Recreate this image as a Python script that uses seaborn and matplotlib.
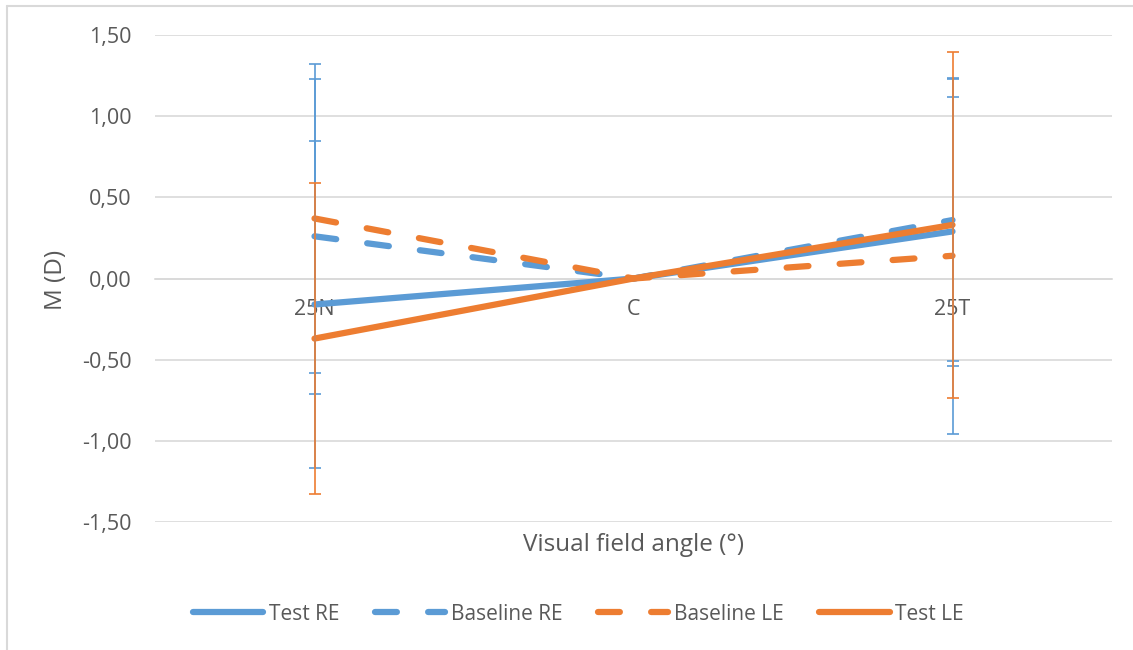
import numpy as np
import pandas as pd
import matplotlib
matplotlib.use("Agg")
import matplotlib.pyplot as plt
from matplotlib.lines import Line2D
import seaborn as sns

# values (M in dioptres)
categories = ["25N", "C", "25T"]
test_re = [-0.16, 0.00, 0.29]
baseline_re = [0.26, 0.00, 0.36]
baseline_le = [0.37, 0.00, 0.14]
test_le = [-0.37, 0.00, 0.33]

# symmetric error bars, none shown at C
test_re_err = [1.01, np.nan, 0.83]
baseline_re_err = [0.97, np.nan, 0.87]
baseline_le_err = [0.95, np.nan, 1.095]
test_le_err = [0.96, np.nan, 1.065]

yticks = [-1.5, -1.0, -0.5, 0.0, 0.5, 1.0, 1.5]

BLUE = "#5B9BD5"
ORANGE = "#ED7D31"
TEXT = "#595959"
GRID = "#D9D9D9"
DASH = (0, (3.5, 5))

sns.set_theme(style="white")
plt.rcParams["font.family"] = ["Open Sans", "DejaVu Sans"]

W, H = 1133, 650
fig = plt.figure(figsize=(W / 100, H / 100), dpi=100)
ax = fig.add_axes([155 / W, 1 - 522 / H, (1112 - 155) / W, (522 - 35) / H])

pos = np.arange(len(categories))
series = [
    ("Test RE", test_re, test_re_err, BLUE, "-", BLUE),
    ("Baseline RE", baseline_re, baseline_re_err, BLUE, DASH, BLUE),
    ("Baseline LE", baseline_le, baseline_le_err, ORANGE, DASH, BLUE),
    ("Test LE", test_le, test_le_err, ORANGE, "-", ORANGE),
]

for name, vals, err, color, ls, ecolor in series:
    df = pd.DataFrame({"pos": pos, "M": vals})
    sns.lineplot(data=df, x="pos", y="M", ax=ax, color=color, lw=4.5,
                 linestyle=ls, sort=False, label=name,
                 solid_capstyle="round", dash_capstyle="round", zorder=3)

# error bars sit on top of the lines
for name, vals, err, color, ls, ecolor in series:
    ax.errorbar(pos, vals, yerr=err, fmt="none", ecolor=ecolor,
                elinewidth=1.2, capsize=4.5, capthick=1.2, zorder=5)

ax.set_xlim(-0.5, len(categories) - 0.5)
ax.set_ylim(-1.5, 1.5)
ax.set_yticks(yticks)
ax.set_yticklabels([f"{v:.2f}".replace(".", ",") for v in yticks])
ax.set_xticks(pos)
ax.set_xticklabels(categories)
ax.yaxis.grid(True, color=GRID, lw=1.2)
ax.set_axisbelow(True)

for side in ["top", "right", "left"]:
    ax.spines[side].set_visible(False)
ax.spines["bottom"].set_position(("data", 0))
ax.spines["bottom"].set_color(GRID)
ax.spines["bottom"].set_linewidth(1.2)
ax.tick_params(axis="x", length=0, pad=15, labelsize=15.5, colors=TEXT)
ax.tick_params(axis="y", length=0, pad=17, labelsize=15.5, colors=TEXT)
ax.set_xlabel("")
ax.set_ylabel("")

ax.text(0.5, -0.048, "Visual field angle (°)", transform=ax.transAxes,
        ha="center", va="center", fontsize=17.5, color=TEXT)
fig.text(56 / W, 1 - 280 / H, "M (D)", rotation=90, ha="center",
         va="center", fontsize=17.5, color=TEXT)

handles, labels = ax.get_legend_handles_labels()
ax.get_legend().remove()
fig.legend(handles, labels, loc="center", bbox_to_anchor=(578 / W, 1 - 614 / H),
           ncol=4, frameon=False, handlelength=3.4, handletextpad=0.25,
           columnspacing=1.7, fontsize=15, labelcolor=TEXT)

# chart border (left and top edges visible in the source crop)
fig.add_artist(Line2D([7 / W, 7 / W], [0, 1 - 6 / H], transform=fig.transFigure,
                      color=GRID, lw=1.5))
fig.add_artist(Line2D([7 / W, 1], [1 - 6 / H, 1 - 6 / H], transform=fig.transFigure,
                      color=GRID, lw=1.5))

fig.savefig("out.png", dpi=100)
